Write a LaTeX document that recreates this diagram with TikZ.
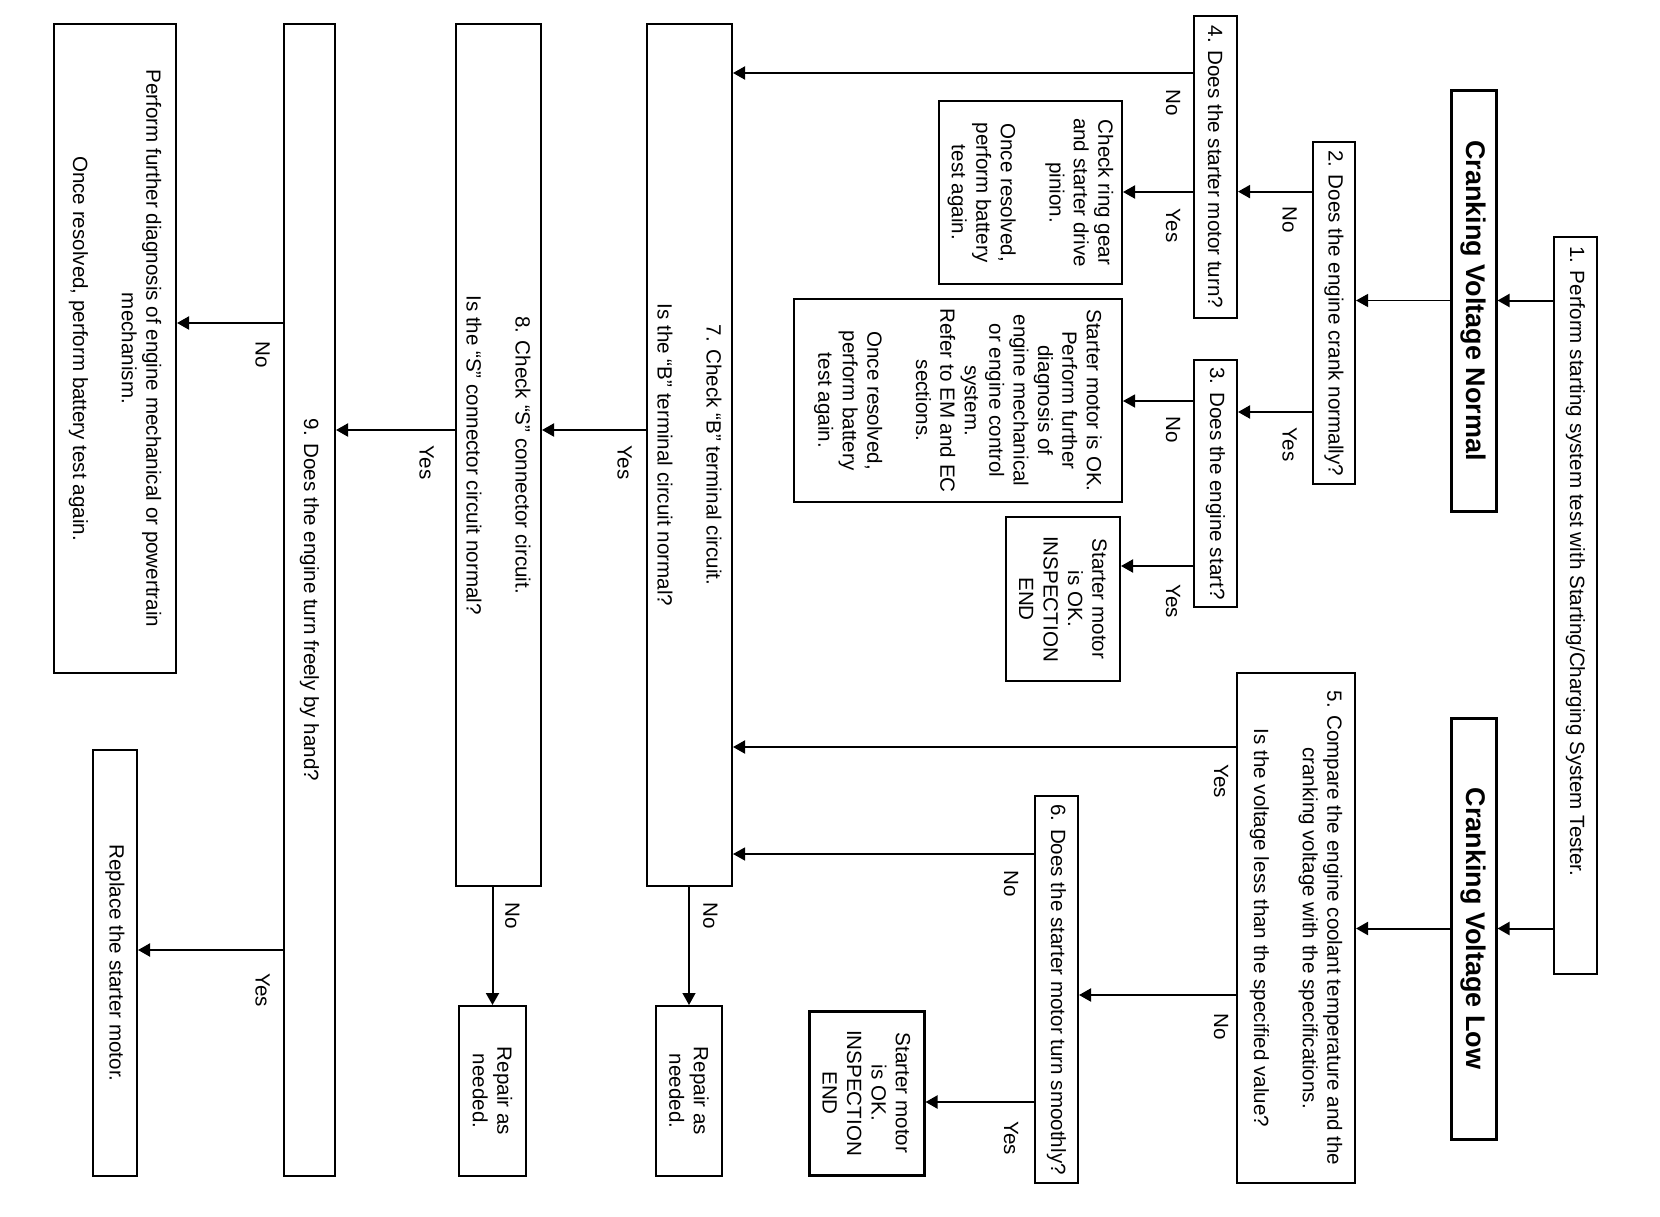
\documentclass[tikz,border=0pt]{standalone}
\usepackage{fontspec}
\setmainfont{Liberation Sans}
\usetikzlibrary{arrows.meta}
\newcommand\rfont{\fontsize{20.6}{24.4}\selectfont}
\newcommand\tfont{\fontsize{27}{30}\selectfont\bfseries}
\begin{document}
\begin{tikzpicture}[x=1pt,y=-1pt,
  box/.style={draw, line width=2pt, rotate=-90, inner sep=0pt, font=\rfont, align=center},
  tbox/.style={box, line width=3pt},
  lab/.style={rotate=-90, inner sep=0pt, font=\rfont},
  arr/.style={-{Triangle[length=12pt,width=13pt]}, line width=2pt},
  arrt/.style={-{Triangle[length=12pt,width=13pt]}, line width=1.3pt}]

\useasboundingbox (0,0) rectangle (1660,1216);
\fill[white] (0,0) rectangle (1660,1216);

% boxes
\node[box, line width=1.6pt, minimum width=737pt, minimum height=43pt] (b1) at (1575.5,605.5)
  {\makebox[719pt][l]{1. Perform starting system test with Starting/Charging System Tester.}};
\node[tbox, font=\tfont, minimum width=421pt, minimum height=45pt] (cvn) at (1473.5,300.5) {Cranking Voltage Normal};
\node[tbox, font=\tfont, minimum width=421pt, minimum height=45pt] (cvl) at (1473.5,928.5) {Cranking Voltage Low};
\node[box, minimum width=342pt, minimum height=42pt] (b2) at (1334,313) {2. Does the engine crank normally?};
\node[box, minimum width=302pt, minimum height=43pt] (b4) at (1215.5,167) {4. Does the starter motor turn?};
\node[box, minimum width=247pt, minimum height=43pt] (b3) at (1215.5,483.5) {3. Does the engine start?};
\node[box, minimum width=183pt, minimum height=183pt] (ring) at (1030.5,192.5)
  {Check ring gear\\and starter drive\\pinion.\\[24.4pt]Once resolved,\\perform battery\\test again.};
\node[box, minimum width=203pt, minimum height=328pt] (further) at (958,400.5)
  {Starter motor is OK.\\Perform further\\diagnosis of\\engine mechanical\\or engine control\\system.\\Refer to EM and EC\\sections.\\[24.4pt]Once resolved,\\perform battery\\test again.};
\node[box, minimum width=164pt, minimum height=114pt] (end1) at (1063,599)
  {Starter motor\\is OK.\\INSPECTION\\END};
\node[box, minimum width=510pt, minimum height=118pt] (b5) at (1296,928)
  {5. Compare the engine coolant temperature and the\\cranking voltage with the specifications.\\[24.4pt]Is the voltage less than the specified value?};
\node[box, minimum width=387pt, minimum height=43pt] (b6) at (1056.5,989.5) {6. Does the starter motor turn smoothly?};
\node[tbox, minimum width=164pt, minimum height=115pt] (end2) at (866.5,1093)
  {Starter motor\\is OK.\\INSPECTION\\END};
\node[box, minimum width=862pt, minimum height=85pt] (b7) at (689.5,455)
  {7. Check “B” terminal circuit.\\[24.4pt]Is the “B” terminal circuit normal?};
\node[box, minimum width=862pt, minimum height=85pt] (b8) at (498.5,455)
  {8. Check “S” connector circuit.\\[24.4pt]Is the “S” connector circuit normal?};
\node[box, minimum width=1152pt, minimum height=51pt] (b9) at (309.5,600) {9. Does the engine turn freely by hand?};
\node[box, minimum width=649pt, minimum height=122pt] (pf) at (115,348.5)
  {Perform further diagnosis of engine mechanical or powertrain\\mechanism.\\[24.4pt]Once resolved, perform battery test again.};
\node[box, minimum width=426pt, minimum height=44pt] (rep) at (115,963) {Replace the starter motor.};
\node[box, minimum width=170pt, minimum height=66pt] (r7) at (689,1091) {Repair as\\needed.};
\node[box, minimum width=170pt, minimum height=67pt] (r8) at (492.5,1091) {Repair as\\needed.};

% levels of connectors
\coordinate (y24) at (0,191.6);
\coordinate (y23) at (0,412);
\coordinate (y47) at (0,73);
\coordinate (y4r) at (0,192);
\coordinate (y3f) at (0,401);
\coordinate (y3e) at (0,566);
\coordinate (y57) at (0,747);
\coordinate (y56) at (0,995);
\coordinate (y67) at (0,854);
\coordinate (y6e) at (0,1102);
\coordinate (y78) at (0,430);
\coordinate (y9p) at (0,323);
\coordinate (y9r) at (0,950);

% connectors
\draw[arr] (b1.south |- cvn.center) -- (cvn.north);
\draw[arr] (b1.south |- cvl.center) -- (cvl.north);
\draw[arrt] (cvn.south) -- (cvn.south -| b2.north);
\draw[arr] (cvl.south) -- (cvl.south -| b5.north);
\draw[arr] (b2.south |- y24) -- (b4.north |- y24);
\draw[arr] (b2.south |- y23) -- (b3.north |- y23);
\draw[arr] (b4.south |- y47) -- (b7.north |- y47);
\draw[arr] (b4.south |- y4r) -- (ring.north |- y4r);
\draw[arrt] (b3.south |- y3f) -- (further.north |- y3f);
\draw[arr] (b3.south |- y3e) -- (end1.north |- y3e);
\draw[arr] (b5.south |- y57) -- (b7.north |- y57);
\draw[arr] (b5.south |- y56) -- (b6.north |- y56);
\draw[arrt] (b6.south |- y67) -- (b7.north |- y67);
\draw[arr] (b6.south |- y6e) -- (end2.north |- y6e);
\draw[arr] (b7.south |- y78) -- (b8.north |- y78);
\draw[arrt] (b7.east -| r7.center) -- (r7.west);
\draw[arr] (b8.south |- y78) -- (b9.north |- y78);
\draw[arr] (b8.east -| r8.center) -- (r8.west);
\draw[arr] (b9.south |- y9p) -- (pf.north |- y9p);
\draw[arr] (b9.south |- y9r) -- (rep.north |- y9r);

% labels
\node[lab] (l1) at (1289.5,220) {No};
\node[lab] (l2) at (1289.5,444.6) {Yes};
\node[lab] (l3) at (1173,102.7) {No};
\node[lab] (l4) at (1173,225.5) {Yes};
\node[lab] (l5) at (1173,430) {No};
\node[lab] (l6) at (1173,601) {Yes};
\node[lab] (l7) at (1221,781) {Yes};
\node[lab] (l8) at (1221,1027) {No};
\node[lab] (l9) at (1011,884) {No};
\node[lab] (l10) at (1011,1138) {Yes};
\node[lab] (l11) at (624.6,462.7) {Yes};
\node[lab] (l12) at (710.4,915.8) {No};
\node[lab] (l13) at (426.7,462.7) {Yes};
\node[lab] (l14) at (512.4,915.8) {No};
\node[lab] (l15) at (262.6,354.7) {No};
\node[lab] (l16) at (262.6,990) {Yes};
\end{tikzpicture}
\end{document}
